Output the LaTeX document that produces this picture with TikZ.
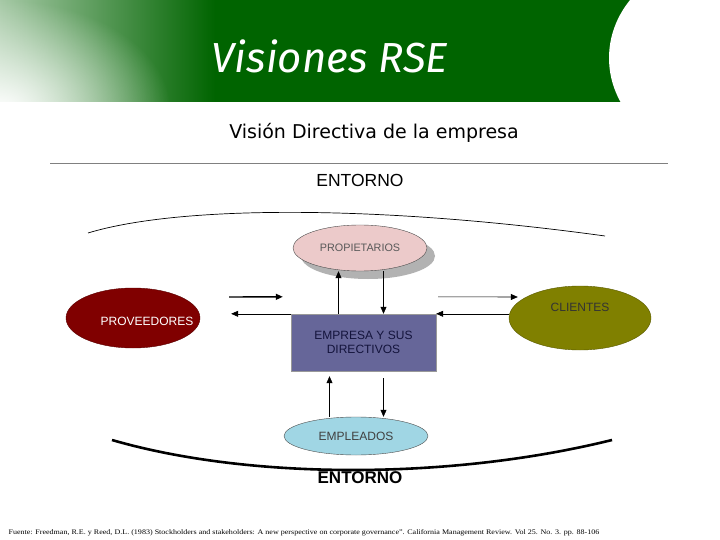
\documentclass[tikz,border=0pt]{standalone}
\usepackage{fontspec}
\setmainfont{Liberation Serif}
\setsansfont{Liberation Sans}
\newfontfamily\titlefont{Fira Sans}
\newfontfamily\subfont{DejaVu Sans}
\usepackage{tikz}
\usetikzlibrary{arrows.meta, positioning, shapes.geometric, calc, fadings}
\definecolor{colHead}{RGB}{0,100,0}
\definecolor{colProp}{RGB}{236,202,202}
\definecolor{colProv}{RGB}{128,0,0}
\definecolor{colCli}{RGB}{128,128,0}
\definecolor{colFirm}{RGB}{102,102,153}
\definecolor{colFirmTxt}{RGB}{20,20,60}
\definecolor{colEmpl}{RGB}{160,214,228}
\tikzfading[name=softglow, inner color=transparent!0, outer color=transparent!100]

\begin{document}
\begin{tikzpicture}[
  x=1pt, y=-1pt,
  oval/.style={ellipse, draw=black!70, inner sep=0pt,
               font=\sffamily\fontsize{12}{14}\selectfont, align=center},
  firm/.style={rectangle, draw=black!40, fill=colFirm, text=colFirmTxt,
               minimum width=145pt, minimum height=57pt,
               font=\sffamily\fontsize{12}{14}\selectfont, align=center},
  entorno/.style={font=\sffamily\fontsize{17.5}{20}\selectfont},
  entornob/.style={font=\sffamily\bfseries\fontsize{17}{20}\selectfont},
  narr/.style={-{Triangle[length=7pt,width=6pt]}, line width=0.6pt},
  tarr/.style={-{Triangle[length=7pt,width=6pt]}, line width=1.4pt},
]
\useasboundingbox (0,0) rectangle (720,540);
\fill[white] (0,0) rectangle (720,540);

% header band
\begin{scope}
  \clip (0,0) rectangle (720,102);
  \fill[colHead] (0,0) rectangle (720,102);
  \shade[left color=colHead!35, right color=colHead] (0,0) rectangle (215,102);
  \fill[white, path fading=softglow] (0,110) ellipse [x radius=170, y radius=110];
  \fill[white] (720,58) ellipse [x radius=111, y radius=99];
\end{scope}
\node[text=white, font=\titlefont\itshape\fontsize{42}{44}\selectfont] (title) at (330,56) {Visiones RSE};

\node[font=\subfont\fontsize{19}{22}\selectfont] (subtitle) at (374,133) {Visión Directiva de la empresa};
\draw[black!50] (50,163) -- (668,163);

\node[entorno] (entTop) at (360,180) {ENTORNO};
\draw[line width=0.7pt] (88,233) .. controls (180,205) and (380,205) .. (605,236);

% stakeholders
\fill[black!30] (368,256) ellipse [x radius=67, y radius=23];
\node[oval, fill=colProp, text=black!65, minimum width=134pt, minimum height=46pt,
      font=\sffamily\fontsize{10.8}{12}\selectfont] (prop) at (360,248) {PROPIETARIOS};

\node[oval, fill=colProv, draw=colProv!70!black, minimum width=134pt, minimum height=60pt,
      label={[text=white, xshift=14pt, yshift=-3pt, font=\sffamily\fontsize{12}{14}\selectfont]center:PROVEEDORES}] (prov) at (133,318) {};

\node[oval, fill=colCli, draw=colCli!70!black, minimum width=142pt, minimum height=64pt,
      label={[text=black!80, yshift=11pt, font=\sffamily\fontsize{12}{14}\selectfont]center:CLIENTES}] (cli) at (580,318) {};

\node[firm] (firm) at (363.5,342.5) {EMPRESA Y SUS\\DIRECTIVOS};

\node[oval, fill=colEmpl, text=black!75, minimum width=144pt, minimum height=38pt] (empl) at (356,436) {EMPLEADOS};

\draw[line width=2.6pt] (112,440) .. controls (250,480) and (450,480) .. (612,440);
\node[entornob] (entBot) at (360,478) {ENTORNO};

% arrows
\draw[narr] ([xshift=-25pt]firm.north) -- ([xshift=-25pt]firm.north |- prop.south);
\draw[narr] ([xshift=20pt]firm.north |- prop.south) -- ([xshift=20pt]firm.north);
\draw[narr] (cli.west |- firm.north east) -- (firm.north east);
\draw[narr] (firm.north west) -- ([xshift=31pt]prov.east |- firm.north west);
\draw[tarr] ([shift={(29pt,21pt)}]prov.east) -- ([shift={(-8pt,17pt)}]firm.north west);
\draw[narr] ([shift={(2pt,17pt)}]firm.north east) -- ([shift={(9pt,21pt)}]cli.west);
\draw[narr] ([xshift=-34pt]firm.south |- empl.north) -- ([shift={(-34pt,-5pt)}]firm.south);
\draw[narr] ([shift={(20pt,-7pt)}]firm.south) -- ([xshift=20pt]firm.south |- empl.north);

\node[anchor=west, font=\fontsize{7}{8}\selectfont] (fuente) at (5,533)
  {\scalebox{1.15}[1]{Fuente: Freedman, R.E. y Reed, D.L. (1983) Stockholders and stakeholders: A new perspective on corporate governance”. California Management Review. Vol 25. No. 3. pp. 88-106}};
\end{tikzpicture}
\end{document}
